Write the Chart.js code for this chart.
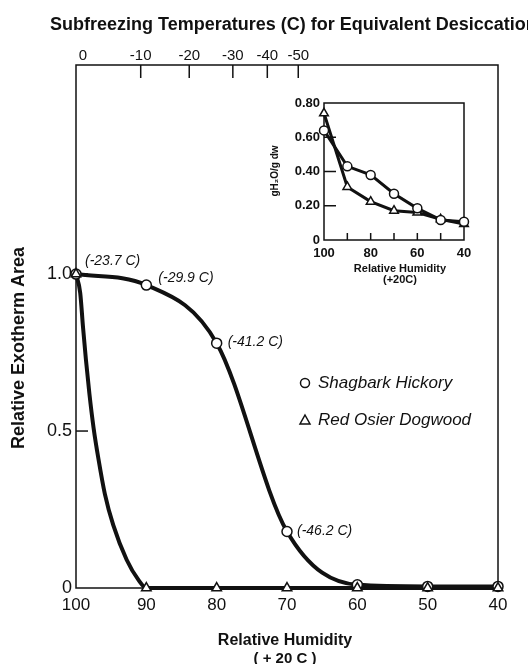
<!DOCTYPE html>
<html>
<head>
<meta charset="utf-8">
<script src="https://cdn.jsdelivr.net/npm/chart.js@4.4.0/dist/chart.umd.min.js"></script>
<style>
  html, body { margin: 0; padding: 0; background: #fff; }
  #wrap { position: relative; width: 528px; height: 664px; overflow: hidden; }
  #mainChart { position: absolute; left: 0; top: 0; }
  #insetChart { position: absolute; left: 268px; top: 88px; }
</style>
</head>
<body>
<div id="wrap">
  <canvas id="mainChart" width="528" height="664"></canvas>
  <canvas id="insetChart" width="210" height="202"></canvas>
</div>
<script>
// Main panel: relative exotherm area vs relative humidity
const humidity = [100, 90, 80, 70, 60, 50, 40];
const hickoryArea = [1.0, 0.965, 0.78, 0.18, 0.01, 0.005, 0.005];
const dogwoodArea = [1.0, 0, 0, 0, 0, 0, 0];
// hand-drawn dogwood curve
const dogwoodCurveRH = [100, 99.4, 99.0, 98.6, 98.1, 97.5, 96.8, 95.9, 94.7, 92.8, 91.1, 90, 80, 70, 60, 50, 40];
const dogwoodCurveArea = [1.0, 0.94, 0.83, 0.73, 0.62, 0.51, 0.41, 0.30, 0.20, 0.09, 0.025, 0, 0, 0, 0, 0, 0];
const hickoryTempLabels = ['(-23.7 C)', '(-29.9 C)', '(-41.2 C)', '(-46.2 C)'];
const yTickValues = [0, 0.5, 1.0];

// Top axis: subfreezing temperature equivalents
const tempTickRH = [99.0, 90.8, 83.9, 77.7, 72.8, 68.4];
const tempTickLabels = ['0', '-10', '-20', '-30', '-40', '-50'];

// Inset: water content vs relative humidity
const insetRH = [100, 90, 80, 70, 60, 50, 40];
const insetHickory = [0.64, 0.43, 0.38, 0.27, 0.185, 0.117, 0.107];
const insetDogwood = [0.74, 0.31, 0.224, 0.171, 0.16, 0.121, 0.093];
const insetYTicks = [0, 0.2, 0.4, 0.6, 0.8];
const insetXLabels = [100, 80, 60, 40];
const insetXMinor = [90, 80, 70, 60, 50];

const INK = '#111';
const toXY = (xs, ys) => xs.map((x, i) => ({ x: x, y: ys[i] }));

const drawLine = (ctx, x1, y1, x2, y2) => {
    ctx.beginPath();
    ctx.moveTo(x1, y1);
    ctx.lineTo(x2, y2);
    ctx.stroke();
};

/**
 * Frame, inward tick marks, titles, point labels and legend of the main panel.
 */
const mainDecor = {
    id: 'mainDecor',
    beforeDatasetsDraw(chart) {
        const { ctx, chartArea: a, scales } = chart;
        ctx.save();
        ctx.strokeStyle = INK;
        ctx.lineWidth = 1.5;
        ctx.strokeRect(a.left, a.top, a.right - a.left, a.bottom - a.top);
        yTickValues.filter(v => v > 0).forEach(v => {
            const py = scales.y.getPixelForValue(v);
            drawLine(ctx, a.left, py, a.left + 12, py);
        });
        tempTickRH.slice(1).forEach(rh => {
            const px = scales.x2.getPixelForValue(rh);
            drawLine(ctx, px, a.top, px, a.top + 13);
        });
        ctx.restore();
    },
    afterDraw(chart) {
        const { ctx, scales } = chart;
        ctx.save();
        ctx.fillStyle = INK;
        ctx.textBaseline = 'middle';

        ctx.font = 'bold 18px "Liberation Sans", Arial, sans-serif';
        ctx.textAlign = 'left';
        ctx.fillText('Subfreezing Temperatures (C) for Equivalent Desiccation', 50, 25);

        ctx.font = 'bold 16px "Liberation Sans", Arial, sans-serif';
        ctx.textAlign = 'center';
        ctx.fillText('Relative Humidity', 285, 641);
        ctx.font = 'bold 15px "Liberation Sans", Arial, sans-serif';
        ctx.fillText('( + 20 C )', 285, 659);

        ctx.save();
        ctx.translate(19, 348);
        ctx.rotate(-Math.PI / 2);
        ctx.font = 'bold 18px "Liberation Sans", Arial, sans-serif';
        ctx.fillText('Relative Exotherm Area', 0, 0);
        ctx.restore();

        // temperature equivalents next to the hickory points
        const offsets = [[9, -13], [12, -7], [11, -1], [10, 0]];
        ctx.font = 'italic 14px "Liberation Sans", Arial, sans-serif';
        ctx.textAlign = 'left';
        hickoryTempLabels.forEach((txt, i) => {
            const px = scales.x.getPixelForValue(humidity[i]);
            const py = scales.y.getPixelForValue(hickoryArea[i]);
            ctx.fillText(txt, px + offsets[i][0], py + offsets[i][1]);
        });

        // legend
        ctx.strokeStyle = INK;
        ctx.lineWidth = 1.5;
        ctx.beginPath();
        ctx.arc(305, 383, 4.5, 0, Math.PI * 2);
        ctx.stroke();
        ctx.beginPath();
        ctx.moveTo(305, 415);
        ctx.lineTo(310, 424);
        ctx.lineTo(300, 424);
        ctx.closePath();
        ctx.stroke();
        ctx.font = 'italic 17px "Liberation Sans", Arial, sans-serif';
        ctx.fillText('Shagbark Hickory', 318, 383);
        ctx.fillText('Red Osier Dogwood', 318, 420);
        ctx.restore();
    }
};

const mainChart = new Chart(document.getElementById('mainChart'), {
    type: 'line',
    data: {
        datasets: [
            {
                label: 'Shagbark Hickory',
                data: toXY(humidity, hickoryArea),
                borderColor: INK,
                borderWidth: 4,
                cubicInterpolationMode: 'monotone',
                pointStyle: 'circle',
                pointRadius: 5,
                pointBorderWidth: 1.5,
                pointBorderColor: INK,
                pointBackgroundColor: '#fff',
                order: 1
            },
            {
                label: 'Red Osier Dogwood curve',
                data: toXY(dogwoodCurveRH, dogwoodCurveArea),
                borderColor: INK,
                borderWidth: 4,
                cubicInterpolationMode: 'monotone',
                pointRadius: 0,
                order: 2
            },
            {
                label: 'Red Osier Dogwood',
                data: toXY(humidity, dogwoodArea),
                showLine: false,
                pointStyle: 'triangle',
                pointRadius: 5.5,
                pointBorderWidth: 1.5,
                pointBorderColor: INK,
                pointBackgroundColor: '#fff',
                order: 0
            }
        ]
    },
    options: {
        responsive: false,
        animation: false,
        clip: false,
        layout: { padding: { left: 0, right: 30, top: 0, bottom: 0 } },
        plugins: { legend: { display: false }, tooltip: { enabled: false } },
        scales: {
            x: {
                type: 'linear',
                position: 'bottom',
                reverse: true,
                min: 40,
                max: 100,
                afterFit: s => { s.height = 76; },
                afterBuildTicks: s => { s.ticks = humidity.map(v => ({ value: v })); },
                grid: { display: false, drawTicks: false },
                border: { display: false },
                ticks: {
                    padding: 7,
                    color: INK,
                    font: { family: '"Liberation Sans", Arial, sans-serif', size: 17 }
                }
            },
            x2: {
                type: 'linear',
                position: 'top',
                reverse: true,
                min: 40,
                max: 100,
                afterFit: s => { s.height = 65; },
                afterBuildTicks: s => { s.ticks = tempTickRH.map(v => ({ value: v })); },
                grid: { display: false, drawTicks: false },
                border: { display: false },
                ticks: {
                    padding: 0,
                    color: INK,
                    autoSkip: false,
                    maxRotation: 0,
                    callback: (v, i) => tempTickLabels[i],
                    font: { family: '"Liberation Sans Narrow", "Liberation Sans", sans-serif', size: 15 }
                }
            },
            y: {
                type: 'linear',
                min: 0,
                max: 1.666,
                afterFit: s => { s.width = 76; },
                afterBuildTicks: s => { s.ticks = yTickValues.map(v => ({ value: v })); },
                grid: { display: false, drawTicks: false },
                border: { display: false },
                ticks: {
                    padding: 4,
                    color: INK,
                    callback: v => (v === 0 ? '0' : v.toFixed(1)),
                    font: { family: '"Liberation Sans", Arial, sans-serif', size: 18 }
                }
            }
        }
    },
    plugins: [mainDecor]
});

/**
 * Inset frame, inward ticks and its labels.
 */
const insetDecor = {
    id: 'insetDecor',
    beforeDatasetsDraw(chart) {
        const { ctx, chartArea: a, scales } = chart;
        ctx.save();
        ctx.strokeStyle = INK;
        ctx.lineWidth = 1.5;
        ctx.strokeRect(a.left, a.top, a.right - a.left, a.bottom - a.top);
        insetYTicks.slice(1, -1).forEach(v => {
            const py = scales.y.getPixelForValue(v);
            drawLine(ctx, a.left, py, a.left + 12, py);
        });
        insetXMinor.forEach(v => {
            const px = scales.x.getPixelForValue(v);
            drawLine(ctx, px, a.bottom, px, a.bottom - 7);
        });
        ctx.restore();
    },
    afterDraw(chart) {
        const { ctx } = chart;
        ctx.save();
        ctx.fillStyle = INK;
        ctx.textAlign = 'center';
        ctx.textBaseline = 'middle';
        ctx.font = 'bold 11px "Liberation Sans", Arial, sans-serif';
        ctx.fillText('Relative Humidity', 132, 181);
        ctx.fillText('(+20C)', 132, 192);
        ctx.translate(7, 83);
        ctx.rotate(-Math.PI / 2);
        ctx.font = 'bold 10px "Liberation Sans", "DejaVu Sans", sans-serif';
        ctx.fillText('gH\u2082O/g dw', 0, 0);
        ctx.restore();
    }
};

const insetChart = new Chart(document.getElementById('insetChart'), {
    type: 'line',
    data: {
        datasets: [
            {
                label: 'Shagbark Hickory',
                data: toXY(insetRH, insetHickory),
                borderColor: INK,
                borderWidth: 3,
                tension: 0,
                pointStyle: 'circle',
                pointRadius: 4.5,
                pointBorderWidth: 1.5,
                pointBorderColor: INK,
                pointBackgroundColor: '#fff'
            },
            {
                label: 'Red Osier Dogwood',
                data: toXY(insetRH, insetDogwood),
                borderColor: INK,
                borderWidth: 3,
                tension: 0,
                pointStyle: 'triangle',
                pointRadius: 5,
                pointBorderWidth: 1.5,
                pointBorderColor: INK,
                pointBackgroundColor: '#fff'
            }
        ]
    },
    options: {
        responsive: false,
        animation: false,
        clip: false,
        layout: { padding: { left: 0, right: 14, top: 15, bottom: 0 } },
        plugins: { legend: { display: false }, tooltip: { enabled: false } },
        scales: {
            x: {
                type: 'linear',
                reverse: true,
                min: 40,
                max: 100,
                afterFit: s => { s.height = 50; },
                afterBuildTicks: s => { s.ticks = insetXLabels.map(v => ({ value: v })); },
                grid: { display: false, drawTicks: false },
                border: { display: false },
                ticks: {
                    padding: 6,
                    color: INK,
                    font: { family: '"Liberation Sans", Arial, sans-serif', size: 13, weight: 'bold' }
                }
            },
            y: {
                type: 'linear',
                min: 0,
                max: 0.8,
                afterFit: s => { s.width = 56; },
                afterBuildTicks: s => { s.ticks = insetYTicks.map(v => ({ value: v })); },
                grid: { display: false, drawTicks: false },
                border: { display: false },
                ticks: {
                    padding: 4,
                    color: INK,
                    callback: v => (v === 0 ? '0' : v.toFixed(2)),
                    font: { family: '"Liberation Sans", Arial, sans-serif', size: 13, weight: 'bold' }
                }
            }
        }
    },
    plugins: [insetDecor]
});
</script>
</body>
</html>
